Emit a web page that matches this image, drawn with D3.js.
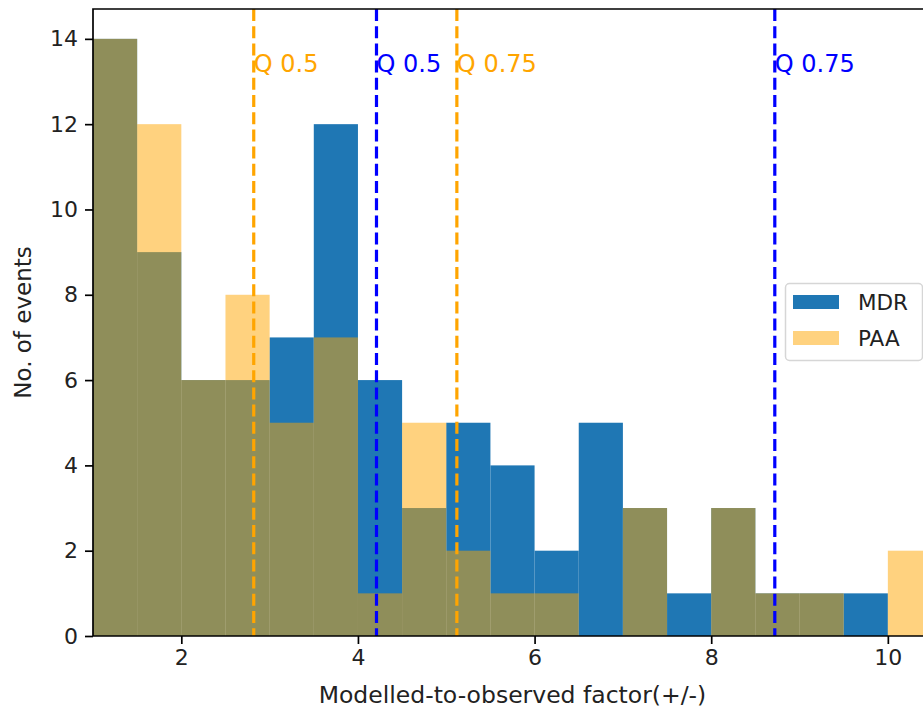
<!DOCTYPE html>
<html>
<head>
<meta charset="utf-8">
<script src="https://cdn.jsdelivr.net/npm/d3@7"></script>
<style>
  html, body { margin: 0; padding: 0; background: #fff; }
  svg { display: block; }
  text { font-family: "DejaVu Sans", sans-serif; }
</style>
</head>
<body>
<div id="chart"></div>
<script>
// histogram bins (left edges, width 0.5)
var binStarts = [1, 1.5, 2, 2.5, 3, 3.5, 4, 4.5, 5, 5.5, 6, 6.5, 7, 7.5, 8, 8.5, 9, 9.5, 10];
var binWidth = 0.5;
var mdrCounts = [14, 9, 6, 6, 7, 12, 6, 3, 5, 4, 2, 5, 3, 1, 3, 1, 1, 1, 0];
var paaCounts = [14, 12, 6, 8, 5, 7, 1, 5, 2, 1, 1, 0, 3, 0, 3, 1, 1, 0, 2];

// quantile markers
var quantiles = [
  { label: "Q 0.5", x: 2.82, color: "orange" },
  { label: "Q 0.5", x: 4.21, color: "blue" },
  { label: "Q 0.75", x: 5.12, color: "orange" },
  { label: "Q 0.75", x: 8.72, color: "blue" }
];
var qLabelY = 13.22;

var xTicks = [2, 4, 6, 8, 10];
var yTicks = [0, 2, 4, 6, 8, 10, 12, 14];

var W = 923, H = 708;
var pLeft = 93, pTop = 9, pRight = 932, pBottom = 636;

var x = d3.scaleLinear().domain([1, 10.5]).range([pLeft, pRight]);
var y = d3.scaleLinear().domain([0, 14.7]).range([pBottom, pTop]);

var svg = d3.select("#chart").append("svg")
  .attr("width", W).attr("height", H);

svg.append("defs").append("clipPath").attr("id", "plot")
  .append("rect").attr("x", pLeft).attr("y", pTop)
  .attr("width", pRight - pLeft).attr("height", pBottom - pTop);

var plot = svg.append("g").attr("clip-path", "url(#plot)");

function drawBars(counts, fill, opacity) {
  plot.append("g").selectAll("rect")
    .data(binStarts)
    .enter()
    .append("rect")
    .attr("x", function (d) { return x(d); })
    .attr("width", function (d) { return x(d + binWidth) - x(d); })
    .attr("y", function (d, i) { return y(counts[i]); })
    .attr("height", function (d, i) { return y(0) - y(counts[i]); })
    .attr("fill", fill)
    .attr("fill-opacity", opacity);
}
drawBars(mdrCounts, "#1f77b4", 1);
drawBars(paaCounts, "orange", 0.5);

plot.append("g").selectAll("line")
  .data(quantiles)
  .enter()
  .append("line")
  .attr("x1", function (d) { return x(d.x); })
  .attr("x2", function (d) { return x(d.x); })
  .attr("y1", pTop).attr("y2", pBottom)
  .attr("stroke", function (d) { return d.color; })
  .attr("stroke-width", 3.2)
  .attr("stroke-dasharray", "12,5.2");

plot.append("g").selectAll("text")
  .data(quantiles)
  .enter()
  .append("text")
  .attr("x", function (d) { return x(d.x); })
  .attr("y", y(qLabelY))
  .attr("fill", function (d) { return d.color; })
  .style("font-size", "24px")
  .text(function (d) { return d.label; });

// axes
var xAxis = d3.axisBottom(x).tickValues(xTicks).tickSize(8).tickPadding(5)
  .tickFormat(d3.format("d"));
var gx = svg.append("g").attr("transform", "translate(0," + pBottom + ")").call(xAxis);
gx.select(".domain").remove();
gx.selectAll("line").attr("stroke", "#000").attr("stroke-width", 1.7);
gx.selectAll("text").style("font-size", "22px").attr("fill", "#222")
  .attr("font-family", "DejaVu Sans");

var yAxis = d3.axisLeft(y).tickValues(yTicks).tickSize(8).tickPadding(7)
  .tickFormat(d3.format("d"));
var gy = svg.append("g").attr("transform", "translate(" + pLeft + ",0)").call(yAxis);
gy.select(".domain").remove();
gy.selectAll("line").attr("stroke", "#000").attr("stroke-width", 1.7);
gy.selectAll("text").style("font-size", "22px").attr("fill", "#222")
  .attr("font-family", "DejaVu Sans");

// spines
svg.append("path")
  .attr("d", "M" + pRight + "," + pTop + "H" + pLeft + "V" + pBottom + "H" + pRight)
  .attr("stroke", "#000").attr("stroke-width", 1.7).attr("fill", "none");

svg.append("text")
  .attr("x", (pLeft + pRight) / 2)
  .attr("y", 703)
  .attr("text-anchor", "middle")
  .attr("fill", "#222")
  .style("font-size", "23.5px")
  .text("Modelled-to-observed factor(+/-)");

svg.append("text")
  .attr("transform", "translate(31," + ((pTop + pBottom) / 2) + ") rotate(-90)")
  .attr("text-anchor", "middle")
  .attr("fill", "#222")
  .style("font-size", "23px")
  .text("No. of events");

// legend, center right
var legendItems = [
  { label: "MDR", fill: "#1f77b4", opacity: 1 },
  { label: "PAA", fill: "orange", opacity: 0.5 }
];
var lg = svg.append("g").attr("transform", "translate(785,283)");
lg.append("rect")
  .attr("x", 0.5).attr("y", 0.5)
  .attr("width", 137).attr("height", 77)
  .attr("rx", 4).attr("ry", 4)
  .attr("fill", "#fff").attr("fill-opacity", 0.8)
  .attr("stroke", "#d6d6d6").attr("stroke-width", 1.5);
var li = lg.selectAll("g.item")
  .data(legendItems)
  .enter()
  .append("g")
  .attr("class", "item")
  .attr("transform", function (d, i) { return "translate(0," + (i * 36) + ")"; });
li.append("rect")
  .attr("x", 8).attr("y", 12)
  .attr("width", 46).attr("height", 14)
  .attr("fill", function (d) { return d.fill; })
  .attr("fill-opacity", function (d) { return d.opacity; });
li.append("text")
  .attr("x", 73).attr("y", 27)
  .attr("fill", "#222")
  .style("font-size", "21.5px")
  .text(function (d) { return d.label; });
</script>
</body>
</html>
